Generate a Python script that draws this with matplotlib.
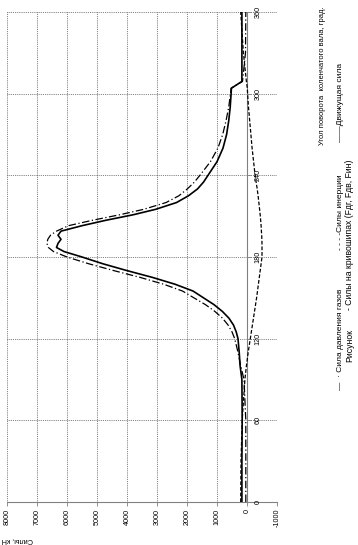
import matplotlib
matplotlib.use("Agg")
import matplotlib.pyplot as plt

plt.rcParams['font.family'] = ['Liberation Sans', 'DejaVu Sans']

# angle of crankshaft, deg
angle = [0, 30, 60, 90, 100, 110, 120, 125, 130, 135, 140, 145, 150, 155, 160,
         165, 170, 175, 180, 184, 187, 190, 193, 196, 199, 203, 207, 211, 215,
         220, 225, 230, 235, 240, 250, 260, 270, 280, 290, 300, 304, 309, 330,
         360]

# gas pressure force (dash-dot)
gas_force = [40, 40, 40, 100, 210, 300, 410, 500, 630, 815, 1070, 1385, 1770,
             2150, 2780, 3560, 4440, 5270, 6000, 6450, 6620, 6670, 6640, 6550,
             6350, 5950, 5150, 4250, 3450, 2700, 2270, 1990, 1755, 1570, 1220,
             970, 810, 700, 610, 550, 530, 150, 50, 40]

# inertia force (dashed)
inertia_force = [210, 200, 160, 70, 20, -40, -110, -145, -180, -215, -250, -285,
                 -320, -350, -380, -410, -440, -470, -500, -500, -500, -500,
                 -495, -490, -480, -470, -455, -440, -420, -395, -370, -340,
                 -305, -270, -220, -170, -130, -90, -50, -20, -10, 20, 120, 210]

# driving force (solid)
drive_force = [170, 170, 160, 170, 230, 260, 300, 360, 450, 600, 820, 1100,
               1450, 1800, 2400, 3150, 4000, 4800, 5500, 6100, 6350, 6300, 6200,
               6300, 6200, 5500, 4700, 3800, 3050, 2350, 1950, 1650, 1450, 1300,
               1000, 800, 680, 610, 560, 530, 520, 170, 170, 170]

force_ticks = list(range(-1000, 8001, 1000))
angle_ticks = [0, 60, 120, 180, 240, 300, 360]

W, H = 358, 545
fig = plt.figure(figsize=(W / 100, H / 100), dpi=100)
# chart is turned by 90 degrees: force runs right to left, angle bottom to top
ax = fig.add_axes([7 / W, 1 - 502 / H, 270 / W, 490 / H])
ax.set_xlim(8000, -1000)
ax.set_ylim(0, 360)

for f in force_ticks:
    ax.axvline(f, color='#333333', lw=0.5, ls=(0, (1.2, 1.5)), zorder=1)
for a in angle_ticks[1:]:
    ax.axhline(a, color='#333333', lw=0.5, ls=(0, (1.2, 1.5)), zorder=1)

for s in ['left', 'top', 'right']:
    ax.spines[s].set_visible(False)
ax.spines['bottom'].set_color('#808080')
ax.spines['bottom'].set_linewidth(0.8)

ax.set_xticks(force_ticks)
ax.set_xticklabels([str(f) for f in force_ticks], rotation=90, fontsize=5.2)
ax.tick_params(axis='x', direction='out', length=3, width=0.6, color='#808080', pad=2)
ax.set_yticks([])

# category axis at zero force
ax.axvline(0, color='#808080', lw=0.8, zorder=2)
for a in angle_ticks:
    ax.plot([0, -130], [a, a], color='#808080', lw=0.6, zorder=2)
    ax.text(-370, a, str(a), rotation=90, fontsize=5.2, ha='center', va='center')

ax.plot(gas_force, angle, color='black', lw=0.9, ls=(0, (6, 2, 1, 2)), zorder=3)
ax.plot(inertia_force, angle, color='black', lw=0.9, ls=(0, (3, 1.5)), zorder=3)
ax.plot(drive_force, angle, color='black', lw=1.2, zorder=4)


def ftext(x, y, s, size=5.2, **kw):
    fig.text(x / W, 1 - y / H, s, fontsize=size, rotation=90,
             ha='center', va='bottom', **kw)


fig.text(17 / W, 1 - 540 / H, 'Силы, кН', fontsize=5.2, rotation=180,
         ha='center', va='center')
ftext(323, 145, 'Угол поворота  коленчатого вала, град.', 5.4)
ftext(340, 390, '—  · Сила давления газов', 6)
ftext(340, 250, '- - - -Силы инерции', 6)
ftext(340, 142, '——Движущая сила', 6)
ftext(350, 362, 'Рисунок', 6.2)
ftext(350, 310, '- Силы на кривошипах (Fдг, Fдв, Fин)', 6.2)

fig.savefig('out.png', dpi=100)
